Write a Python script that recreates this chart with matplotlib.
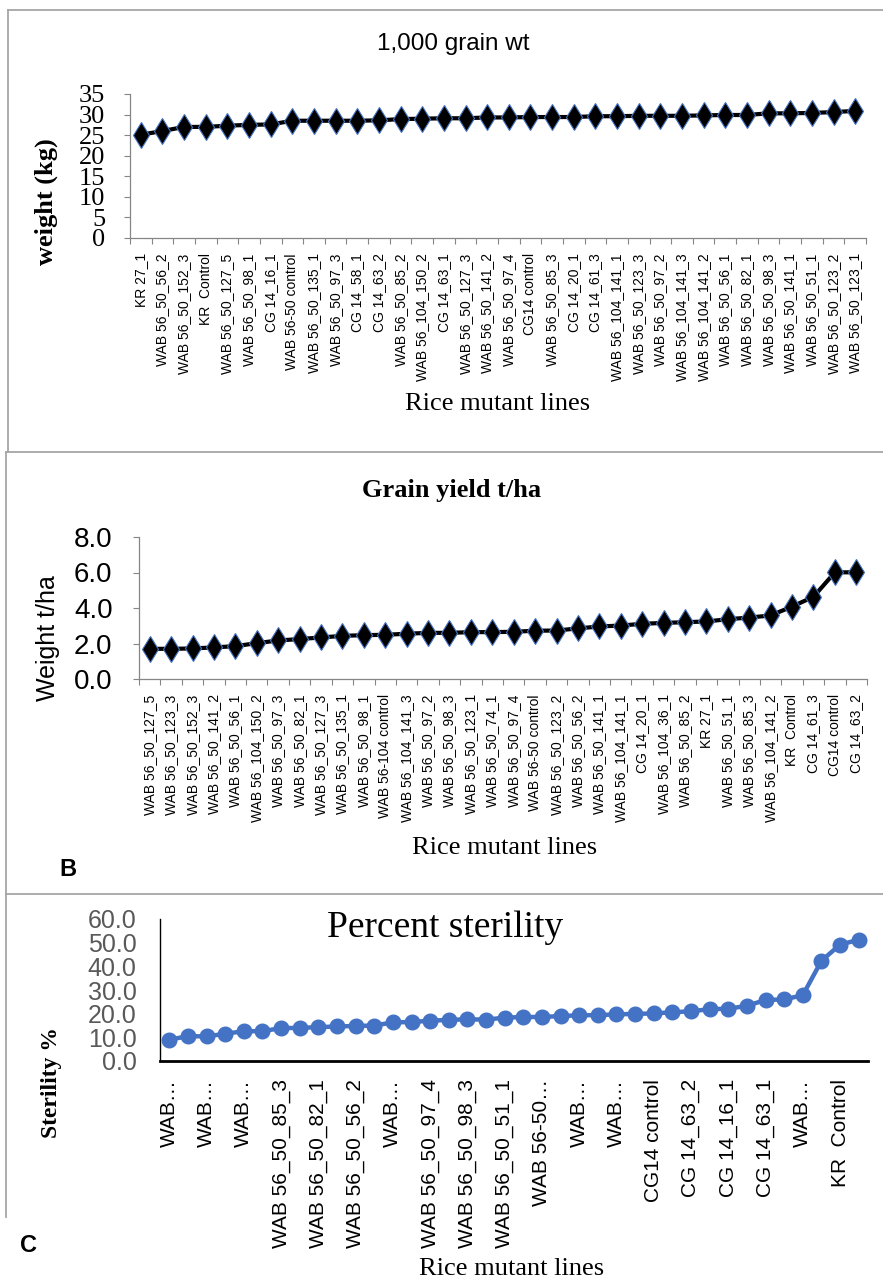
#!/usr/bin/env python3
import matplotlib
matplotlib.use('Agg')
import matplotlib.pyplot as plt
from matplotlib.lines import Line2D
import numpy as np

# panel A: 1,000 grain weight
a_lines = ['KR 27_1', 'WAB 56_50_56_2', 'WAB 56_50_152_3', 'KR  Control', 'WAB 56_50_127_5',
           'WAB 56_50_98_1', 'CG 14_16_1', 'WAB 56-50 control', 'WAB 56_50_135_1', 'WAB 56_50_97_3',
           'CG 14_58_1', 'CG 14_63_2', 'WAB 56_50_85_2', 'WAB 56_104_150_2', 'CG 14_63_1',
           'WAB 56_50_127_3', 'WAB 56_50_141_2', 'WAB 56_50_97_4', 'CG14 control', 'WAB 56_50_85_3',
           'CG 14_20_1', 'CG 14_61_3', 'WAB 56_104_141_1', 'WAB 56_50_123_3', 'WAB 56_50_97_2',
           'WAB 56_104_141_3', 'WAB 56_104_141_2', 'WAB 56_50_56_1', 'WAB 56_50_82_1', 'WAB 56_50_98_3',
           'WAB 56_50_141_1', 'WAB 56_50_51_1', 'WAB 56_50_123_2', 'WAB 56_50_123_1']
a_wt = [25.1, 26.0, 27.0, 27.0, 27.3, 27.5, 27.6, 28.5, 28.5, 28.5,
        28.5, 28.6, 28.9, 29.0, 29.1, 29.1, 29.3, 29.3, 29.4, 29.4,
        29.4, 29.6, 29.6, 29.7, 29.7, 29.7, 29.8, 29.9, 29.9, 30.3,
        30.3, 30.4, 30.6, 30.9]

# panel B: grain yield t/ha
b_lines = ['WAB 56_50_127_5', 'WAB 56_50_123_3', 'WAB 56_50_152_3', 'WAB 56_50_141_2', 'WAB 56_50_56_1',
           'WAB 56_104_150_2', 'WAB 56_50_97_3', 'WAB 56_50_82_1', 'WAB 56_50_127_3', 'WAB 56_50_135_1',
           'WAB 56_50_98_1', 'WAB 56-104 control', 'WAB 56_104_141_3', 'WAB 56_50_97_2', 'WAB 56_50_98_3',
           'WAB 56_50_123_1', 'WAB 56_50_74_1', 'WAB 56_50_97_4', 'WAB 56-50 control', 'WAB 56_50_123_2',
           'WAB 56_50_56_2', 'WAB 56_50_141_1', 'WAB 56_104_141_1', 'CG 14_20_1', 'WAB 56_104_36_1',
           'WAB 56_50_85_2', 'KR 27_1', 'WAB 56_50_51_1', 'WAB 56_50_85_3', 'WAB 56_104_141_2',
           'KR  Control', 'CG 14_61_3', 'CG14 control', 'CG 14_63_2']
b_yield = [1.70, 1.70, 1.72, 1.78, 1.85, 2.02, 2.17, 2.25, 2.34, 2.43,
           2.47, 2.49, 2.55, 2.60, 2.60, 2.64, 2.64, 2.66, 2.72, 2.73,
           2.85, 2.96, 3.01, 3.11, 3.16, 3.20, 3.24, 3.37, 3.46, 3.58,
           4.08, 4.63, 6.01, 6.01]

# panel C: percent sterility (only every other line is labelled)
c_labels = ['WAB\u2026', 'WAB\u2026', 'WAB\u2026', 'WAB 56_50_85_3', 'WAB 56_50_82_1',
            'WAB 56_50_56_2', 'WAB\u2026', 'WAB 56_50_97_4', 'WAB 56_50_98_3', 'WAB 56_50_51_1',
            'WAB 56-50\u2026', 'WAB\u2026', 'WAB\u2026', 'CG14 control', 'CG 14_63_2',
            'CG 14_16_1', 'CG 14_63_1', 'WAB\u2026', 'KR  Control']
c_ster = [9.0, 10.5, 10.4, 11.5, 12.6, 12.6, 13.9, 14.0, 14.3, 14.6,
          14.8, 15.0, 16.3, 16.5, 17.0, 17.4, 17.6, 17.5, 18.3, 18.6,
          18.6, 19.0, 19.3, 19.4, 19.7, 19.9, 20.1, 20.6, 21.0, 21.9,
          22.1, 23.3, 25.8, 26.0, 27.8, 42.3, 49.2, 51.2]

W, H = 883, 1281
SERIF = ['Liberation Serif', 'DejaVu Serif']
SANS = ['Liberation Sans', 'DejaVu Sans']
BLUE = '#4472C4'
AXGRAY = '#868686'
FRAME = '#A6A6A6'

fig = plt.figure(figsize=(W / 100, H / 100), dpi=100)


def box(l, t, r, b):
    return [l / W, 1 - b / H, (r - l) / W, (b - t) / H]


def ftext(x, y, s, **kw):
    fig.text(x / W, 1 - y / H, s, **kw)


def fline(xs, ys):
    fig.add_artist(Line2D([x / W for x in xs], [1 - y / H for y in ys],
                          color=FRAME, lw=1.3))


# frames around the panels
fline([8, 883], [10, 10])
fline([8, 8], [10, 452])
fline([6, 883], [452, 452])
fline([6, 6], [452, 894])
fline([6, 883], [894, 894])
fline([6, 6], [894, 1217])


def excel_axes(ax, names, ytop):
    n = len(names)
    ax.set_xlim(-0.5, n - 0.5)
    ax.set_xticks(np.arange(n))
    ax.set_xticklabels(names, rotation=90, fontsize=10, family=SANS, va='top')
    ax.set_xticks(np.arange(n + 1) - 0.5, minor=True)
    ax.tick_params(axis='x', which='major', length=0, pad=11)
    ax.tick_params(axis='x', which='minor', length=4, color=AXGRAY, width=0.8)
    ax.tick_params(axis='y', length=4, color=AXGRAY, width=0.8)
    ax.set_ylim(0, ytop)
    for s in ['top', 'right']:
        ax.spines[s].set_visible(False)
    for s in ['left', 'bottom']:
        ax.spines[s].set_color(AXGRAY)
        ax.spines[s].set_linewidth(0.9)


# ---- A ----
axA = fig.add_axes(box(130, 94, 866, 238))
axA.plot(np.arange(len(a_wt)), a_wt, color='black', lw=3, marker='d', ms=13,
         mfc='black', mec=BLUE, mew=0.8, zorder=3)
excel_axes(axA, a_lines, 35)
axA.set_yticks(np.arange(0, 36, 5))
axA.set_yticklabels([str(v) for v in range(0, 36, 5)], fontsize=19, family=SERIF)
axA.tick_params(axis='y', pad=14)
ftext(453, 44, '1,000 grain wt', ha='center', va='center', fontsize=17.5, family=SANS)
ftext(46, 202, 'weight (kg)', rotation=90, ha='center', va='center', fontsize=19,
      family=SERIF, weight='bold')
ftext(498, 404, 'Rice mutant lines', ha='center', va='center', fontsize=19, family=SERIF)

# ---- B ----
axB = fig.add_axes(box(139, 537, 867, 679))
axB.plot(np.arange(len(b_yield)), b_yield, color='black', lw=3, marker='d', ms=13,
         mfc='black', mec=BLUE, mew=0.8, zorder=3)
excel_axes(axB, b_lines, 8)
axB.set_yticks([0, 2, 4, 6, 8])
axB.set_yticklabels(['%.1f' % v for v in [0, 2, 4, 6, 8]], fontsize=20, family=SANS)
axB.tick_params(axis='y', pad=15)
ftext(452, 491, 'Grain yield t/ha', ha='center', va='center', fontsize=19,
      family=SERIF, weight='bold')
ftext(48, 638, 'Weight t/ha', rotation=90, ha='center', va='center', fontsize=18, family=SANS)
ftext(505, 848, 'Rice mutant lines', ha='center', va='center', fontsize=19, family=SERIF)
ftext(68, 869, 'B', ha='center', va='center', fontsize=17, family=SANS, weight='bold')

# ---- C ----
axC = fig.add_axes(box(160, 919, 868, 1061))
xc = np.arange(len(c_ster))
axC.plot(xc, c_ster, color=BLUE, lw=3.2, marker='o', ms=10.5, zorder=3)
axC.set_xlim(-0.5, len(c_ster) - 0.5)
axC.set_ylim(0, 60)
axC.set_xticks(xc[::2])
axC.set_xticklabels(c_labels, rotation=90, fontsize=15, family=SANS, va='top')
axC.tick_params(axis='x', length=0, pad=13)
axC.set_yticks(np.arange(0, 61, 10))
axC.set_yticklabels(['%.1f' % v for v in range(0, 61, 10)], fontsize=18, family=SANS,
                    color='#595959')
axC.tick_params(axis='y', length=0, pad=17)
for s in ['top', 'right']:
    axC.spines[s].set_visible(False)
axC.spines['left'].set_linewidth(1.0)
axC.spines['bottom'].set_linewidth(2.0)
ftext(445, 928, 'Percent sterility', ha='center', va='center', fontsize=27, family=SERIF)
ftext(51, 1082, 'Sterility %', rotation=90, ha='center', va='center', fontsize=17,
      family=SERIF, weight='bold')
ftext(512, 1269, 'Rice mutant lines', ha='center', va='center', fontsize=19, family=SERIF)
ftext(29, 1246, 'C', ha='center', va='center', fontsize=17, family=SANS, weight='bold')

plt.savefig('out.png', dpi=100)
plt.close()
